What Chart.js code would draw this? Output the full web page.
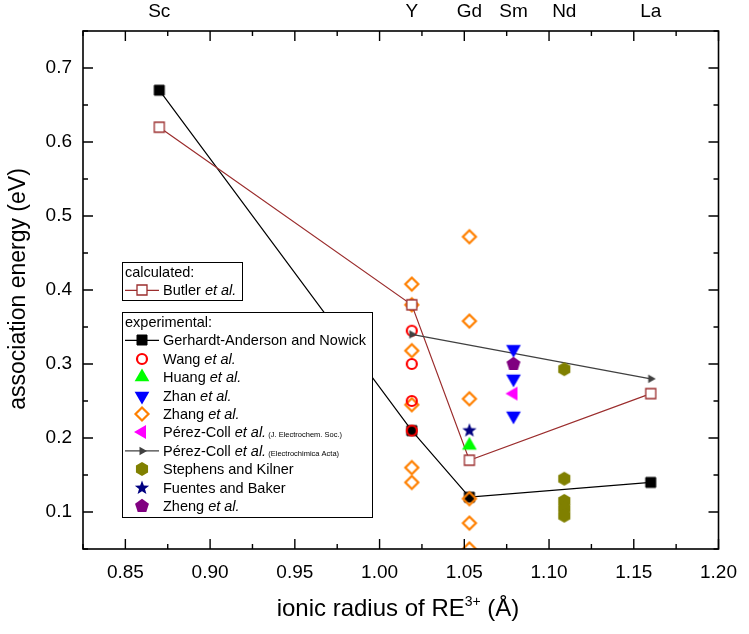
<!DOCTYPE html>
<html>
<head>
<meta charset="utf-8">
<script src="https://cdn.jsdelivr.net/npm/chart.js@4.4.1/dist/chart.umd.min.js"></script>
<style>
  html, body { margin: 0; padding: 0; background: #fff; }
</style>
</head>
<body>
<canvas id="chart" width="749" height="634"></canvas>
<script>
/* top axis: rare earth elements at their ionic radius */
const elements = ['Sc', 'Y', 'Gd', 'Sm', 'Nd', 'La']
const radii = [0.87, 1.019, 1.053, 1.079, 1.109, 1.16]
const xTicks = [0.85, 0.90, 0.95, 1.00, 1.05, 1.10, 1.15, 1.20]
const yTicks = [0.1, 0.2, 0.3, 0.4, 0.5, 0.6, 0.7]

/* calculated */
const butlerX = [0.87, 1.019, 1.053, 1.16]
const butlerY = [0.62, 0.38, 0.17, 0.26]

/* experimental */
const gerhardtX = [0.87, 1.019, 1.053, 1.16]
const gerhardtY = [0.67, 0.21, 0.12, 0.14]
const wangX = [1.019, 1.019, 1.019, 1.019]
const wangY = [0.345, 0.30, 0.25, 0.21]
const huangX = [1.053]
const huangY = [0.19]
const zhanX = [1.079, 1.079, 1.079]
const zhanY = [0.32, 0.28, 0.23]
const zhangX = [1.019, 1.019, 1.019, 1.019, 1.019, 1.019, 1.053, 1.053, 1.053, 1.053, 1.053, 1.053]
const zhangY = [0.408, 0.38, 0.318, 0.245, 0.16, 0.14, 0.472, 0.358, 0.253, 0.118, 0.085, 0.05]
const perezJesX = [1.079]
const perezJesY = [0.26]
const perezEaX = [1.019, 1.16]
const perezEaY = [0.34, 0.28]
const stephensX = [1.109, 1.109, 1.109, 1.109, 1.109]
const stephensY = [0.293, 0.145, 0.115, 0.105, 0.095]
const fuentesX = [1.053]
const fuentesY = [0.21]
const zhengX = [1.079]
const zhengY = [0.30]

const FONT = "'Liberation Sans', Arial, Helvetica, sans-serif"
const butlerColor = '#9b2d2d'

function pts(xs, ys) {
    return xs.map((x, i) => ({ x: x, y: ys[i] }))
}

/* marker outlines, drawn around (0,0) */
function shapePath(ctx, shape, r, rot) {
    ctx.beginPath()
    if (shape === 'circle') { ctx.arc(0, 0, r, 0, Math.PI * 2); return }
    if (shape === 'square') { ctx.rect(-r, -r, 2 * r, 2 * r); return }
    let n = 3, inner = 0
    if (shape === 'diamond') n = 4
    if (shape === 'pentagon') n = 5
    if (shape === 'hexagon') n = 6
    if (shape === 'star') { n = 5; inner = r * 0.42 }
    const a0 = (rot || 0) * Math.PI / 180
    const steps = inner ? n * 2 : n
    for (let i = 0; i < steps; i++) {
        const rr = inner && i % 2 ? inner : r
        const a = a0 + i * Math.PI * 2 / steps
        const px = Math.sin(a) * rr, py = -Math.cos(a) * rr
        if (i) ctx.lineTo(px, py)
        else ctx.moveTo(px, py)
    }
    ctx.closePath()
}

function makeMarker(shape, r, fill, stroke, lw, rot) {
    const pad = Math.ceil(r + (lw || 0) + 2)
    const c = document.createElement('canvas')
    c.width = c.height = pad * 2
    const ctx = c.getContext('2d')
    ctx.translate(pad, pad)
    shapePath(ctx, shape, r, rot)
    if (fill) { ctx.fillStyle = fill; ctx.fill() }
    if (stroke) { ctx.lineWidth = lw; ctx.strokeStyle = stroke; ctx.stroke() }
    return c
}

const mk = {
    butler: makeMarker('square', 5, '#fff', butlerColor, 1.3),
    gerhardt: makeMarker('square', 5, '#000', '#000', 1),
    wang: makeMarker('circle', 5, null, '#ff0000', 2.2),
    huang: makeMarker('triangle', 8.5, '#00ff00'),
    zhan: makeMarker('triangle', 8.5, '#0000ff', null, 0, 180),
    zhang: makeMarker('diamond', 6.5, null, '#ff8000', 2.2),
    perezJes: makeMarker('triangle', 8, '#ff00ff', null, 0, 270),
    perezEa: makeMarker('triangle', 5, '#404040', null, 0, 90),
    stephens: makeMarker('hexagon', 7, '#808000'),
    fuentes: makeMarker('star', 7.5, '#000080'),
    zheng: makeMarker('pentagon', 7.3, '#800080')
}

function series(data, marker, order, extra) {
    return Object.assign({
        data: data,
        pointStyle: marker,
        pointRadius: 6,
        showLine: false,
        order: order
    }, extra || {})
}

const datasets = [
    series(pts(gerhardtX, gerhardtY), mk.gerhardt, 10, { showLine: true, borderColor: '#000', borderWidth: 1.2 }),
    series(pts(zhangX, zhangY), mk.zhang, 9, { clip: 0 }),
    series(pts(wangX, wangY), mk.wang, 8),
    series(pts(butlerX, butlerY), mk.butler, 7, { showLine: true, borderColor: butlerColor, borderWidth: 1.2 }),
    series(pts(perezEaX, perezEaY), mk.perezEa, 6, { showLine: true, borderColor: '#404040', borderWidth: 1.2 }),
    series(pts(huangX, huangY), mk.huang, 5),
    series(pts(zhanX, zhanY), mk.zhan, 4),
    series(pts(perezJesX, perezJesY), mk.perezJes, 3),
    series(pts(stephensX, stephensY), mk.stephens, 2),
    series(pts(fuentesX, fuentesY), mk.fuentes, 1),
    series(pts(zhengX, zhengY), mk.zheng, 0)
]

/* legend boxes: [text, italic, small] segments */
const calcLegend = [
    { marker: mk.butler, line: butlerColor, text: [['Butler ', 0], ['et al.', 1]] }
]
const expLegend = [
    { marker: mk.gerhardt, line: '#000', text: [['Gerhardt-Anderson and Nowick', 0]] },
    { marker: mk.wang, text: [['Wang ', 0], ['et al.', 1]] },
    { marker: mk.huang, text: [['Huang ', 0], ['et al.', 1]] },
    { marker: mk.zhan, text: [['Zhan ', 0], ['et al.', 1]] },
    { marker: mk.zhang, text: [['Zhang ', 0], ['et al.', 1]] },
    { marker: mk.perezJes, text: [['Pérez-Coll ', 0], ['et al.', 1], [' (J. Electrochem. Soc.)', 0, 1]] },
    { marker: mk.perezEa, line: '#404040', text: [['Pérez-Coll ', 0], ['et al.', 1], [' (Electrochimica Acta)', 0, 1]] },
    { marker: mk.stephens, text: [['Stephens and Kilner', 0]] },
    { marker: mk.fuentes, text: [['Fuentes and Baker', 0]] },
    { marker: mk.zheng, text: [['Zheng ', 0], ['et al.', 1]] }
]

function drawSegments(ctx, segs, x, y) {
    ctx.textAlign = 'left'
    ctx.textBaseline = 'alphabetic'
    segs.forEach(s => {
        const size = s[2] ? 7.5 : 14.5
        ctx.font = (s[1] ? 'italic ' : '') + size + 'px ' + FONT
        ctx.fillText(s[0], x, y)
        x += ctx.measureText(s[0]).width
    })
}

function drawLegendBox(ctx, box, header, items) {
    ctx.save()
    ctx.fillStyle = '#fff'
    ctx.fillRect(box.x, box.y, box.w, box.h)
    ctx.strokeStyle = '#000'
    ctx.lineWidth = 1
    ctx.strokeRect(box.x + 0.5, box.y + 0.5, box.w, box.h)
    ctx.fillStyle = '#000'
    drawSegments(ctx, [[header, 0]], box.x + 3, box.first + 5)
    items.forEach((it, i) => {
        const cy = box.first + (i + 1) * box.step
        if (it.line) {
            ctx.strokeStyle = it.line
            ctx.lineWidth = 1.2
            ctx.beginPath()
            ctx.moveTo(box.x + 3, cy)
            ctx.lineTo(box.x + 37, cy)
            ctx.stroke()
        }
        const m = it.marker
        ctx.drawImage(m, box.x + 20 - m.width / 2, Math.round(cy) - m.height / 2)
        ctx.fillStyle = '#000'
        drawSegments(ctx, it.text, box.x + 41, cy + 5)
    })
    ctx.restore()
}

const frame = {
    id: 'frame',
    afterDraw(chart) {
        const ctx = chart.ctx
        const a = chart.chartArea
        const xs = chart.scales.x, ys = chart.scales.y
        ctx.save()
        ctx.strokeStyle = '#000'
        ctx.lineWidth = 1.6
        ctx.strokeRect(a.left, a.top, a.right - a.left, a.bottom - a.top)
        ctx.lineWidth = 1.4
        ctx.beginPath()
        for (let i = 33; i <= 48; i++) {
            const px = xs.getPixelForValue(i * 0.025)
            const len = i % 2 === 0 ? 10 : 5
            ctx.moveTo(px, a.bottom); ctx.lineTo(px, a.bottom - len)
            ctx.moveTo(px, a.top); ctx.lineTo(px, a.top + len)
        }
        for (let i = 1; i <= 15; i++) {
            const py = ys.getPixelForValue(i * 0.05)
            const len = i % 2 === 0 ? 10 : 5
            ctx.moveTo(a.left, py); ctx.lineTo(a.left + len, py)
            ctx.moveTo(a.right, py); ctx.lineTo(a.right - len, py)
        }
        ctx.stroke()

        /* axis titles */
        ctx.fillStyle = '#000'
        ctx.save()
        ctx.translate(19, 289)
        ctx.rotate(-Math.PI / 2)
        ctx.textAlign = 'center'
        ctx.textBaseline = 'middle'
        ctx.font = '23px ' + FONT
        ctx.fillText('association energy (eV)', 0, 0)
        ctx.restore()

        const parts = [['ionic radius of RE', 24, 0], ['3+', 14, -10], [' (Å)', 24, 0]]
        let total = 0
        parts.forEach(p => { ctx.font = p[1] + 'px ' + FONT; total += ctx.measureText(p[0]).width })
        let x = 398 - total / 2
        ctx.textAlign = 'left'
        ctx.textBaseline = 'alphabetic'
        parts.forEach(p => {
            ctx.font = p[1] + 'px ' + FONT
            ctx.fillText(p[0], x, 616 + p[2])
            x += ctx.measureText(p[0]).width
        })

        drawLegendBox(ctx, { x: 122, y: 262, w: 120, h: 38, first: 272, step: 18.4 }, 'calculated:', calcLegend)
        drawLegendBox(ctx, { x: 122, y: 312, w: 250, h: 205, first: 322, step: 18.4 }, 'experimental:', expLegend)
        ctx.restore()
    }
}

const tickFont = { family: FONT, size: 19 }

new Chart(document.getElementById('chart'), {
    type: 'scatter',
    data: { datasets: datasets },
    options: {
        responsive: false,
        animation: false,
        layout: { padding: 0 },
        plugins: { legend: { display: false }, tooltip: { enabled: false } },
        scales: {
            x: {
                type: 'linear', position: 'bottom', min: 0.825, max: 1.2,
                afterBuildTicks: s => { s.ticks = xTicks.map(v => ({ value: v })) },
                afterFit: s => { s.height = 85 },
                grid: { display: false, drawTicks: false },
                border: { display: false },
                ticks: { padding: 12, color: '#000', font: tickFont, maxRotation: 0, autoSkip: false,
                    callback: v => v.toFixed(2) }
            },
            x2: {
                type: 'linear', position: 'top', min: 0.825, max: 1.2,
                afterBuildTicks: s => { s.ticks = radii.map(v => ({ value: v })) },
                afterFit: s => { s.height = 31 },
                grid: { display: false, drawTicks: false },
                border: { display: false },
                ticks: { padding: 8, color: '#000', font: tickFont, maxRotation: 0, autoSkip: false,
                    callback: (v, i) => elements[i] }
            },
            y: {
                type: 'linear', min: 0.05, max: 0.75,
                afterBuildTicks: s => { s.ticks = yTicks.map(v => ({ value: v })) },
                afterFit: s => { s.width = 83 },
                grid: { display: false, drawTicks: false },
                border: { display: false },
                ticks: { padding: 11, color: '#000', font: tickFont,
                    callback: v => v.toFixed(1) }
            },
            y2: {
                type: 'linear', position: 'right', min: 0.05, max: 0.75,
                afterFit: s => { s.width = 25 },
                grid: { display: false, drawTicks: false },
                border: { display: false },
                ticks: { display: false }
            }
        }
    },
    plugins: [frame]
})
</script>
</body>
</html>
